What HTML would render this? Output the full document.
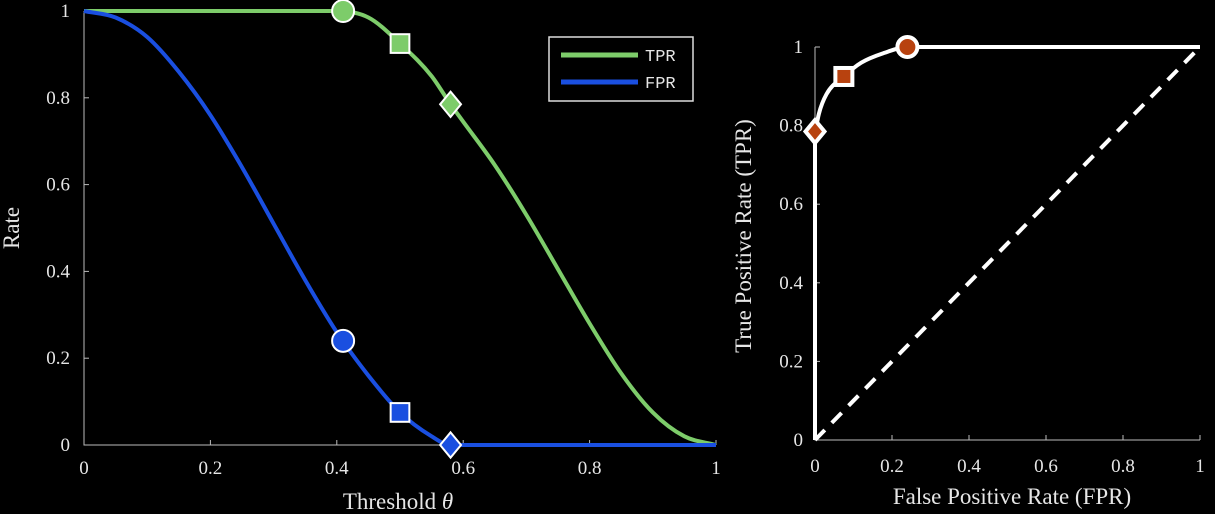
<!DOCTYPE html>
<html><head><meta charset="utf-8"><style>
html,body{margin:0;padding:0;background:#000;}
svg{display:block;font-family:"Liberation Serif",serif;}
.t{fill:#e6e6e6;font-size:19px;}
.m{font-family:"Liberation Mono",monospace;font-size:17px;fill:#e6e6e6;}
</style></head><body>
<svg width="1215" height="514" viewBox="0 0 1215 514">
<g id="left"></g>
<g id="right"></g>
</svg>
<script>
const thetas=[0,0.05,0.1,0.15,0.2,0.25,0.3,0.35,0.4,0.45,0.5,0.55,0.58,0.6,0.65,0.7,0.75,0.8,0.85,0.9,0.95,1];
const tprVals=[1,1,1,1,1,1,1,1,1,0.985,0.925,0.85,0.785,0.745,0.645,0.53,0.405,0.28,0.165,0.075,0.02,0];
const fprVals=[1,0.985,0.94,0.86,0.76,0.64,0.51,0.38,0.26,0.16,0.075,0.02,0,0,0,0,0,0,0,0,0,0];
const markerThetas=[0.41,0.5,0.58];
const markerTpr=[1,0.925,0.785];
const markerFpr=[0.24,0.075,0];
const markerShapes=['circle','square','diamond'];
const ticks=[0,0.2,0.4,0.6,0.8,1];
const tickLabels=['0','0.2','0.4','0.6','0.8','1'];
const rocFpr=[0,0,0.01,0.03,0.075,0.12,0.18,0.24,1];
const rocTpr=[0,0.78,0.83,0.88,0.925,0.96,0.985,1,1];

const NS='http://www.w3.org/2000/svg';
function mk(p,tag,a){const e=document.createElementNS(NS,tag);for(const k in a)e.setAttribute(k,a[k]);p.appendChild(e);return e;}
function txt(p,x,y,s,anchor){const e=mk(p,'text',{x:x,y:y,'text-anchor':anchor||'middle',class:'t'});e.textContent=s;return e;}

const L=document.getElementById('left');
const lx=v=>84+v*632, ly=v=>445-v*434;
const R=document.getElementById('right');
const rx=v=>815+v*385, ry=v=>440-v*393;

function monoPath(xs,ys,fx,fy,start){
  const n=xs.length;const d=[],m=[];
  for(let i=0;i<n-1;i++)d.push((ys[i+1]-ys[i])/(xs[i+1]-xs[i]));
  for(let i=0;i<n;i++){
    if(i===0)m.push(d[0]);else if(i===n-1)m.push(d[n-2]);
    else m.push(d[i-1]*d[i]<=0?0:(d[i-1]+d[i])/2);
  }
  for(let i=0;i<n-1;i++){
    if(d[i]===0){m[i]=0;m[i+1]=0;continue;}
    const a=m[i]/d[i],b=m[i+1]/d[i],s=a*a+b*b;
    if(s>9){const t=3/Math.sqrt(s);m[i]=t*a*d[i];m[i+1]=t*b*d[i];}
  }
  let p=(start?'L':'M')+fx(xs[0]).toFixed(1)+','+fy(ys[0]).toFixed(1);
  for(let i=0;i<n-1;i++){
    const h=xs[i+1]-xs[i];
    p+=` C${fx(xs[i]+h/3).toFixed(1)},${fy(ys[i]+m[i]*h/3).toFixed(1)} ${fx(xs[i+1]-h/3).toFixed(1)},${fy(ys[i+1]-m[i+1]*h/3).toFixed(1)} ${fx(xs[i+1]).toFixed(1)},${fy(ys[i+1]).toFixed(1)}`;
  }
  return p;
}

function marker(p,shape,x,y,fill,sz,sw){
  let e;
  if(shape==='circle') e=mk(p,'circle',{cx:x,cy:y,r:sz,fill:fill,stroke:'#fff','stroke-width':sw});
  else if(shape==='square') e=mk(p,'rect',{x:x-sz*0.85,y:y-sz*0.85,width:sz*1.7,height:sz*1.7,fill:fill,stroke:'#fff','stroke-width':sw});
  else e=mk(p,'polygon',{points:`${x},${y-sz*1.15} ${x+sz*0.95},${y} ${x},${y+sz*1.15} ${x-sz*0.95},${y}`,fill:fill,stroke:'#fff','stroke-width':sw});
  return e;
}

let ax=mk(L,'path',{d:`M84,11 V445 H716`,fill:'none',stroke:'#bbb','stroke-width':1});

ticks.forEach((t,i)=>{
  mk(L,'line',{x1:lx(t),x2:lx(t),y1:445,y2:440,stroke:'#bbb'});
  mk(L,'line',{x1:84,x2:89,y1:ly(t),y2:ly(t),stroke:'#bbb'});
  const a=txt(L,lx(t),474,tickLabels[i]);
  const b=txt(L,70,ly(t)+6,tickLabels[i],'end');
});
let xt=txt(L,398,509,'Threshold ');xt.style.fontSize='23px';
const th=mk(xt,'tspan',{'font-style':'italic'});th.textContent='θ';
let yt=txt(L,0,0,'Rate');yt.setAttribute('transform','translate(19,228) rotate(-90)');yt.style.fontSize='23px';


let tp=mk(L,'path',{d:monoPath(thetas,tprVals,lx,ly),fill:'none',stroke:'#7dcc6a','stroke-width':4,'stroke-linejoin':'round'});

let fp=mk(L,'path',{d:monoPath(thetas,fprVals,lx,ly),fill:'none',stroke:'#1a4fe0','stroke-width':4,'stroke-linejoin':'round'});

markerThetas.forEach((t,i)=>{
  const a=marker(L,markerShapes[i],lx(t),ly(markerTpr[i]),'#7dcc6a',11,2);
  
  const b=marker(L,markerShapes[i],lx(t),ly(markerFpr[i]),'#1a4fe0',11,2);
  
});
const lg=mk(L,'g',{});
mk(lg,'rect',{x:549,y:37,width:144,height:64,fill:'#000',stroke:'#ddd','stroke-width':1.5});
mk(lg,'line',{x1:561,x2:638,y1:55,y2:55,stroke:'#7dcc6a','stroke-width':5});
mk(lg,'line',{x1:561,x2:638,y1:82,y2:82,stroke:'#1a4fe0','stroke-width':5});
let l1=mk(lg,'text',{x:645,y:61,class:'m'});l1.textContent='TPR';

let l2=mk(lg,'text',{x:645,y:88,class:'m'});l2.textContent='FPR';


let rax=mk(R,'path',{d:`M815,47 V440 H1200`,fill:'none',stroke:'#bbb','stroke-width':1});

ticks.forEach((t,i)=>{
  mk(R,'line',{x1:rx(t),x2:rx(t),y1:440,y2:435,stroke:'#bbb'});
  mk(R,'line',{x1:815,x2:820,y1:ry(t),y2:ry(t),stroke:'#bbb'});
  const a=txt(R,rx(t),472,tickLabels[i]);
  const b=txt(R,803,ry(t)+6,tickLabels[i],'end');
});
let rxt=txt(R,1012,504,'False Positive Rate (FPR)');rxt.style.fontSize='23px';

let ryt=txt(R,0,0,'True Positive Rate (TPR)');ryt.setAttribute('transform','translate(751,236) rotate(-90)');ryt.style.fontSize='23px';

let dg=mk(R,'line',{x1:rx(0),y1:ry(0),x2:rx(1),y2:ry(1),stroke:'#fff','stroke-width':4,'stroke-dasharray':'14,10'});

const rocD='M'+rx(rocFpr[0])+','+ry(rocTpr[0])+' '+monoPath(rocFpr.slice(1),rocTpr.slice(1),rx,ry,true);
let rc=mk(R,'path',{d:rocD,fill:'none',stroke:'#fff','stroke-width':4,'stroke-linejoin':'round'});

markerThetas.forEach((t,i)=>{
  const a=marker(R,markerShapes[i],rx(markerFpr[i]),ry(markerTpr[i]),'#b8420f',10,4);
  
});
</script>
</body></html>
